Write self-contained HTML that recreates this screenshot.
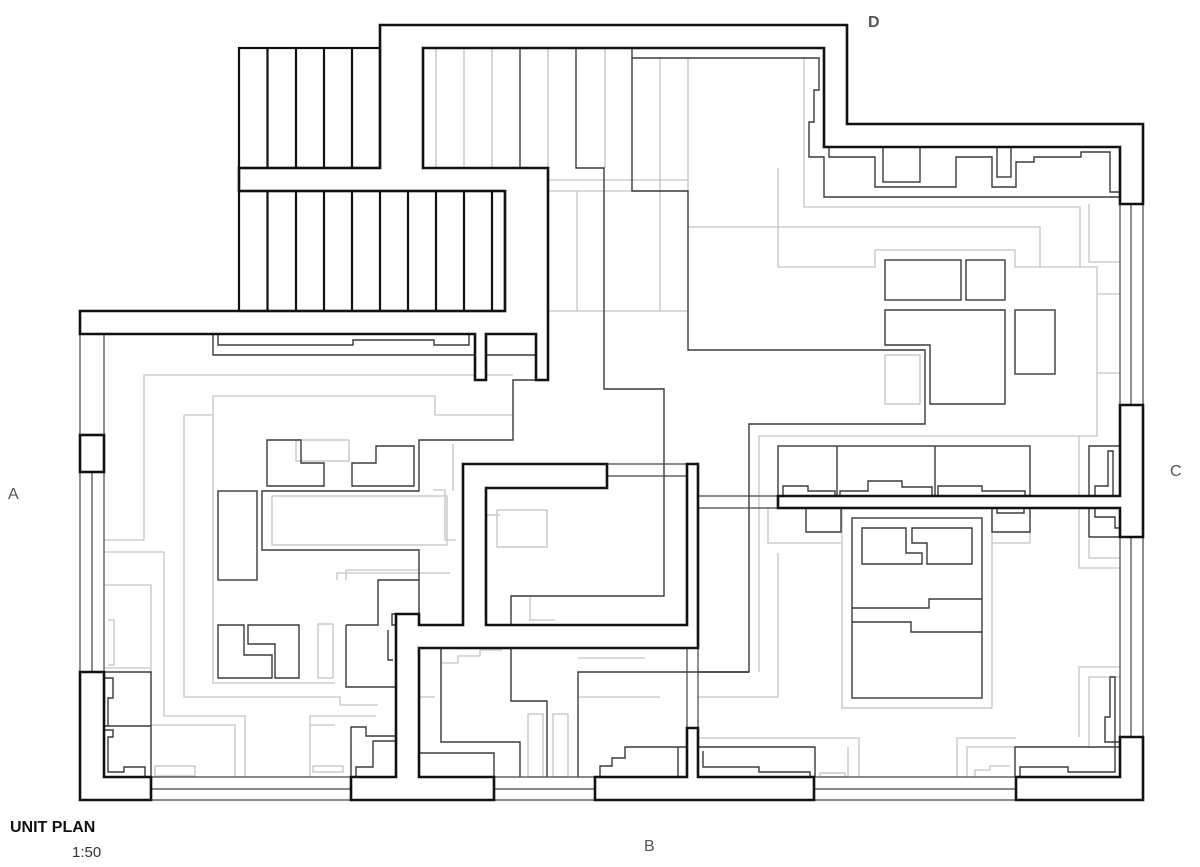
<!DOCTYPE html>
<html><head><meta charset="utf-8"><style>
html,body{margin:0;padding:0;background:#fff;width:1200px;height:867px;overflow:hidden}
svg{display:block}
text{font-family:"Liberation Sans",sans-serif;fill:#555}
</style></head><body>
<svg width="1200" height="867" viewBox="0 0 1200 867" xmlns="http://www.w3.org/2000/svg">
<!-- light gray lines -->
<g fill="none" stroke="#c4c4c4" stroke-width="1.3">
<polyline points="104,540 144,540 144,375 513,375"/>
<polyline points="184,415 213,415 213,396 435,396 435,415 512,415"/>
<polyline points="184,415 184,697 340,697 340,705 378,705"/>
<polyline points="213,415 213,683 335,683"/>
<polyline points="104,585 151,585 151,672"/>
<polyline points="104,552 164,552 164,716 245,716 245,777"/>
<polyline points="151,725 235,725 235,777"/>
<polyline points="310,777 310,716 376,716"/>
<polyline points="335,725 310,725"/>
<rect x="155" y="766" width="40" height="10"/>
<rect x="313" y="766" width="30" height="6"/>
<rect x="272" y="496" width="175" height="49"/>
<rect x="296" y="440" width="53" height="21"/>
<rect x="318" y="624" width="15" height="54"/>
<polyline points="346,580 346,570 419,570"/>
<polyline points="337,580 337,573 450,573"/>
<polyline points="433,490 445,490 445,540 456,540"/>
<polyline points="453,444 453,491"/>
<rect x="497" y="510" width="50" height="37"/>
<polyline points="463,560 480,560 480,585"/>
<polyline points="511,596 530,596 530,620 555,620"/>
<polyline points="486,515 500,515"/>
<line x1="436" y1="48" x2="436" y2="168"/><line x1="464" y1="48" x2="464" y2="168"/><line x1="492" y1="48" x2="492" y2="168"/>
<line x1="548" y1="48" x2="548" y2="168"/><line x1="605" y1="48" x2="605" y2="168"/><line x1="660" y1="58" x2="660" y2="311"/><line x1="688" y1="58" x2="688" y2="191"/>
<line x1="548" y1="180" x2="688" y2="180"/><line x1="548" y1="191" x2="688" y2="191"/>
<line x1="577" y1="191" x2="577" y2="311"/><line x1="548" y1="311" x2="688" y2="311"/>
<polyline points="804,58 804,207 1080,207 1080,267"/>
<polyline points="778,168 778,267 875,267 875,250 1015,250 1015,267 1097,267 1097,436 759,436 759,672"/>
<polyline points="688,227 1040,227 1040,267"/>
<polyline points="1089,204 1089,262 1120,262"/>
<line x1="1097" y1="294" x2="1120" y2="294"/><line x1="1097" y1="373" x2="1120" y2="373"/>
<rect x="885" y="355" width="35" height="49"/>
<polyline points="768,508 768,543 841,543"/>
<polyline points="1030,532 1030,543 992,543"/>
<polyline points="1079,436 1079,568 1120,568"/>
<polyline points="1089,539 1089,558 1120,558"/>
<polyline points="778,553 778,697 698,697"/>
<rect x="842" y="508" width="150" height="200"/>
<polyline points="1079,737 1079,667 1120,667"/>
<polyline points="1089,747 1089,677 1120,677"/>
<polyline points="698,738 859,738 859,777"/>
<polyline points="848,777 848,747"/>
<polyline points="957,777 957,738 1016,738"/>
<polyline points="967,777 967,747 1016,747"/>
<rect x="820" y="773" width="25" height="4"/>
<polyline points="975,777 975,770 990,770 990,766 1010,766"/>
<rect x="528" y="714" width="15" height="63"/><rect x="553" y="714" width="15" height="63"/>
<polyline points="578,697 660,697"/>
<line x1="578" y1="658" x2="645" y2="658"/>
<polyline points="435,697 419,697"/>
<polyline points="441,650 441,663 458,663 458,656 480,656 480,650 502,650"/>
<polyline points="108,620 114,620 114,665 108,665"/>
<polyline points="104,668 150,668"/>
</g>
<!-- dark gray lines -->
<g fill="none" stroke="#3a3a3a" stroke-width="1.4">
<polyline points="213,334 213,355 536,355"/>
<polyline points="218,334 218,345 353,345 353,340 434,340 434,345 469,345 469,334"/>
<polyline points="536,380 513,380 513,440 419,440 419,491 262,491 262,550 419,550 419,625"/>
<polyline points="520,48 520,168"/>
<polyline points="576,48 576,168 604,168 604,389 664,389 664,596 511,596 511,625"/>
<polyline points="632,48 632,191 688,191 688,350 925,350 925,424 749,424 749,672 698,672"/>
<polyline points="632,58 819,58 819,90 814,90 814,122 809,122 809,157 824,157 824,197 1120,197"/>
<polyline points="829,147 829,157 875,157 875,187 956,187 956,157 992,157 992,187 1016,187 1016,162 1034,162 1034,157 1081,157 1081,152 1110,152 1110,192 1120,192"/>
<rect x="883" y="147" width="37" height="35"/>
<rect x="997" y="147" width="14" height="30"/>
<rect x="885" y="260" width="76" height="40"/>
<rect x="966" y="260" width="39" height="40"/>
<polygon points="885,310 1005,310 1005,404 930,404 930,345 885,345"/>
<rect x="1015" y="310" width="40" height="64"/>
<polygon points="267,440 301,440 301,463 324,463 324,486 267,486"/>
<polygon points="352,463 376,463 376,446 414,446 414,486 352,486"/>
<rect x="218" y="491" width="39" height="89"/>
<polygon points="218,625 244,625 244,655 272,655 272,678 218,678"/>
<polygon points="248,625 299,625 299,678 275,678 275,644 248,644"/>
<polyline points="346,625 378,625 378,580 419,580"/>
<polyline points="346,625 346,687 396,687"/>
<polygon points="392,614 408,614 408,625 392,625"/>
<polyline points="388,630 388,660 393,660"/>
<polyline points="104,672 151,672 151,777"/>
<line x1="104" y1="726" x2="151" y2="726"/>
<polyline points="104,678 113,678 113,698 108,698 108,726"/>
<polyline points="104,730 113,730 113,737 108,737 108,772 124,772 124,767 145,767 145,777"/>
<polyline points="351,777 351,727 366,727 366,736 396,736"/>
<polyline points="356,777 356,767 373,767 373,741 396,741"/>
<polyline points="419,753 494,753 494,777"/>
<polyline points="441,648 441,742 520,742 520,777"/>
<polyline points="511,648 511,701 547,701 547,777"/>
<polyline points="578,777 578,672 749,672"/>
<polyline points="600,777 600,766 612,766 612,758 625,758 625,747 686,747"/>
<line x1="678" y1="747" x2="678" y2="777"/>
<rect x="778" y="446" width="252" height="50"/>
<line x1="837" y1="446" x2="837" y2="496"/><line x1="935" y1="446" x2="935" y2="496"/>
<polyline points="783,496 783,486 808,486 808,491 835,491 835,496"/>
<polyline points="840,496 840,491 868,491 868,481 902,481 902,487 932,487 932,496"/>
<polyline points="938,496 938,486 982,486 982,491 1025,491 1025,496"/>
<polyline points="806,508 806,532 841,532 841,508"/>
<polyline points="992,508 992,532 1030,532 1030,508"/>
<polyline points="997,508 997,513 1024,513 1024,508"/>
<rect x="852" y="518" width="130" height="180"/>
<polygon points="862,528 906,528 906,553 922,553 922,564 862,564"/>
<polygon points="912,528 972,528 972,564 927,564 927,543 912,543"/>
<polyline points="852,608 929,608 929,599 982,599"/>
<polyline points="852,622 911,622 911,632 982,632"/>
<polyline points="1089,496 1089,446 1120,446"/>
<polyline points="1113,496 1113,451 1108,451 1108,486 1095,486 1095,496"/>
<polyline points="1089,508 1089,537 1120,537"/>
<polyline points="1095,508 1095,517 1115,517 1115,528 1120,528"/>
<polyline points="698,747 815,747 815,777"/>
<polyline points="703,751 703,767 759,767 759,772 810,772 810,777"/>
<polyline points="1015,777 1015,747 1120,747"/>
<polyline points="1020,777 1020,767 1068,767 1068,772 1115,772 1115,677 1110,677 1110,717 1105,717 1105,742 1120,742"/>
</g>
<!-- window / thin wall lines -->
<g fill="none" stroke="#444" stroke-width="1.2">
<line x1="80" y1="334" x2="80" y2="672"/><line x1="104" y1="334" x2="104" y2="672"/>
<line x1="92" y1="472" x2="92" y2="672"/>
<line x1="151" y1="777" x2="351" y2="777"/><line x1="151" y1="789" x2="351" y2="789"/><line x1="151" y1="800" x2="351" y2="800"/>
<line x1="494" y1="777" x2="595" y2="777"/><line x1="494" y1="789" x2="595" y2="789"/><line x1="494" y1="800" x2="595" y2="800"/>
<line x1="814" y1="777" x2="1016" y2="777"/><line x1="814" y1="789" x2="1016" y2="789"/><line x1="814" y1="800" x2="1016" y2="800"/>
<line x1="1120" y1="204" x2="1120" y2="405"/><line x1="1131" y1="204" x2="1131" y2="405"/><line x1="1143" y1="204" x2="1143" y2="405"/>
<line x1="1120" y1="537" x2="1120" y2="737"/><line x1="1131" y1="537" x2="1131" y2="737"/><line x1="1143" y1="537" x2="1143" y2="737"/>
<line x1="607" y1="464" x2="687" y2="464"/><line x1="607" y1="476" x2="687" y2="476"/>
<line x1="698" y1="496" x2="778" y2="496"/><line x1="698" y1="508" x2="778" y2="508"/>
<line x1="687" y1="648" x2="687" y2="728"/><line x1="698" y1="648" x2="698" y2="728"/>
</g>
<!-- walls -->
<g fill="#fff" stroke="#111" stroke-width="2.6" stroke-linejoin="miter">
<polygon points="80,311 505,311 505,191 239,191 239,168 380,168 380,25 847,25 847,124 1143,124 1143,204 1120,204 1120,147 824,147 824,48 423,48 423,168 548,168 548,380 536,380 536,334 486,334 486,380 475,380 475,334 80,334"/>
<rect x="80" y="435" width="24" height="37"/>
<polygon points="80,672 104,672 104,777 151,777 151,800 80,800"/>
<polygon points="463,464 607,464 607,488 486,488 486,625 687,625 687,464 698,464 698,648 419,648 419,777 494,777 494,800 351,800 351,777 396,777 396,614 419,614 419,625 463,625"/>
<polygon points="687,728 698,728 698,777 814,777 814,800 595,800 595,777 687,777"/>
<polygon points="1016,777 1120,777 1120,737 1143,737 1143,800 1016,800"/>
<polygon points="1120,405 1143,405 1143,537 1120,537 1120,508 778,508 778,496 1120,496"/>
</g>
<g fill="none" stroke="#111" stroke-width="2.2">
<rect x="239" y="48" width="141" height="120"/>
<line x1="267.5" y1="48" x2="267.5" y2="168"/><line x1="296" y1="48" x2="296" y2="168"/><line x1="324" y1="48" x2="324" y2="168"/><line x1="352" y1="48" x2="352" y2="168"/>
<rect x="239" y="191" width="266" height="120"/>
<line x1="267.5" y1="191" x2="267.5" y2="311"/><line x1="296" y1="191" x2="296" y2="311"/><line x1="324" y1="191" x2="324" y2="311"/><line x1="352" y1="191" x2="352" y2="311"/><line x1="380" y1="191" x2="380" y2="311"/><line x1="408" y1="191" x2="408" y2="311"/><line x1="436" y1="191" x2="436" y2="311"/><line x1="464" y1="191" x2="464" y2="311"/><line x1="492" y1="191" x2="492" y2="311"/>
</g>
<text x="868" y="27" font-size="16" font-weight="bold">D</text>
<text x="8" y="499" font-size="16">A</text>
<text x="1170" y="476" font-size="16">C</text>
<text x="644" y="851" font-size="16">B</text>
<text x="10" y="832" font-size="16" font-weight="bold" style="fill:#111">UNIT PLAN</text>
<text x="72" y="857" font-size="15" style="fill:#333">1:50</text>
</svg>
</body></html>
